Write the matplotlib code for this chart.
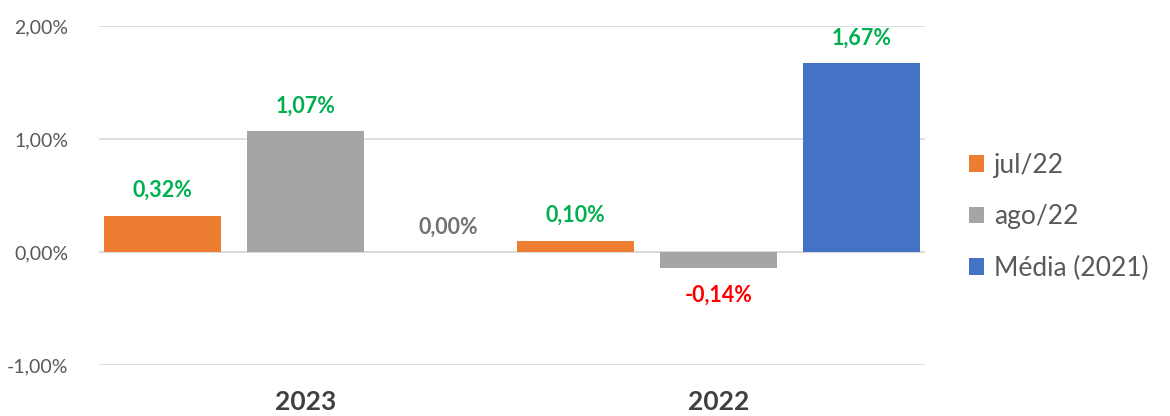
import matplotlib.pyplot as plt
import numpy as np

plt.rcParams['font.family'] = ['Lato', 'DejaVu Sans']

categories = ["2023", "2022"]
series = ["jul/22", "ago/22", "Média (2021)"]
values = {
    "jul/22": [0.32, 0.10],
    "ago/22": [1.07, -0.14],
    "Média (2021)": [0.00, 1.67],
}
colors = {
    "jul/22": "#ED7D31",
    "ago/22": "#A5A5A5",
    "Média (2021)": "#4472C4",
}


def fmt(v):
    return f"{v:.2f}".replace(".", ",") + "%"


def label_color(v):
    if v > 0:
        return "#00B050"
    if v < 0:
        return "#FF0000"
    return "#767171"


fig = plt.figure(figsize=(11.7, 4.16), dpi=100)
ax = fig.add_axes([0.0846, 0.1226, 0.706, 0.815])

x = np.arange(len(categories))
width = 0.283
step = 0.346

for i, s in enumerate(series):
    pos = x + (i - 1) * step
    ax.bar(pos, values[s], width, color=colors[s], label=s, zorder=3)
    for xp, v in zip(pos, values[s]):
        if v >= 0:
            ax.text(xp, v + 0.13, fmt(v), ha="center", va="bottom",
                    fontsize=15.5, fontweight="bold", color=label_color(v))
        else:
            ax.text(xp, v - 0.15, fmt(v), ha="center", va="top",
                    fontsize=15.5, fontweight="bold", color=label_color(v))

ax.set_xlim(-0.5, 1.5)
ax.set_ylim(-1.0, 2.0)
ax.set_yticks([-1, 0, 1, 2])
ax.set_yticklabels([fmt(t) for t in [-1, 0, 1, 2]], fontsize=14, color="#595959")
ax.set_xticks(x)
ax.set_xticklabels(categories, fontsize=19, fontweight="bold", color="#404040")
ax.tick_params(axis="x", length=0, pad=18)
ax.tick_params(axis="y", length=0, pad=22)
ax.grid(axis="y", color="#D9D9D9", linewidth=1.2, zorder=0)
ax.axhline(0, color="#D9D9D9", linewidth=1.2, zorder=1)
for sp in ax.spines.values():
    sp.set_visible(False)

ax.legend(loc="center left", bbox_to_anchor=(1.04, 0.437), frameon=False,
          fontsize=19, handlelength=0.6, handleheight=0.6, handletextpad=0.35,
          labelspacing=1.0, labelcolor="#595959", borderaxespad=0)

fig.savefig("out.png", dpi=100)
